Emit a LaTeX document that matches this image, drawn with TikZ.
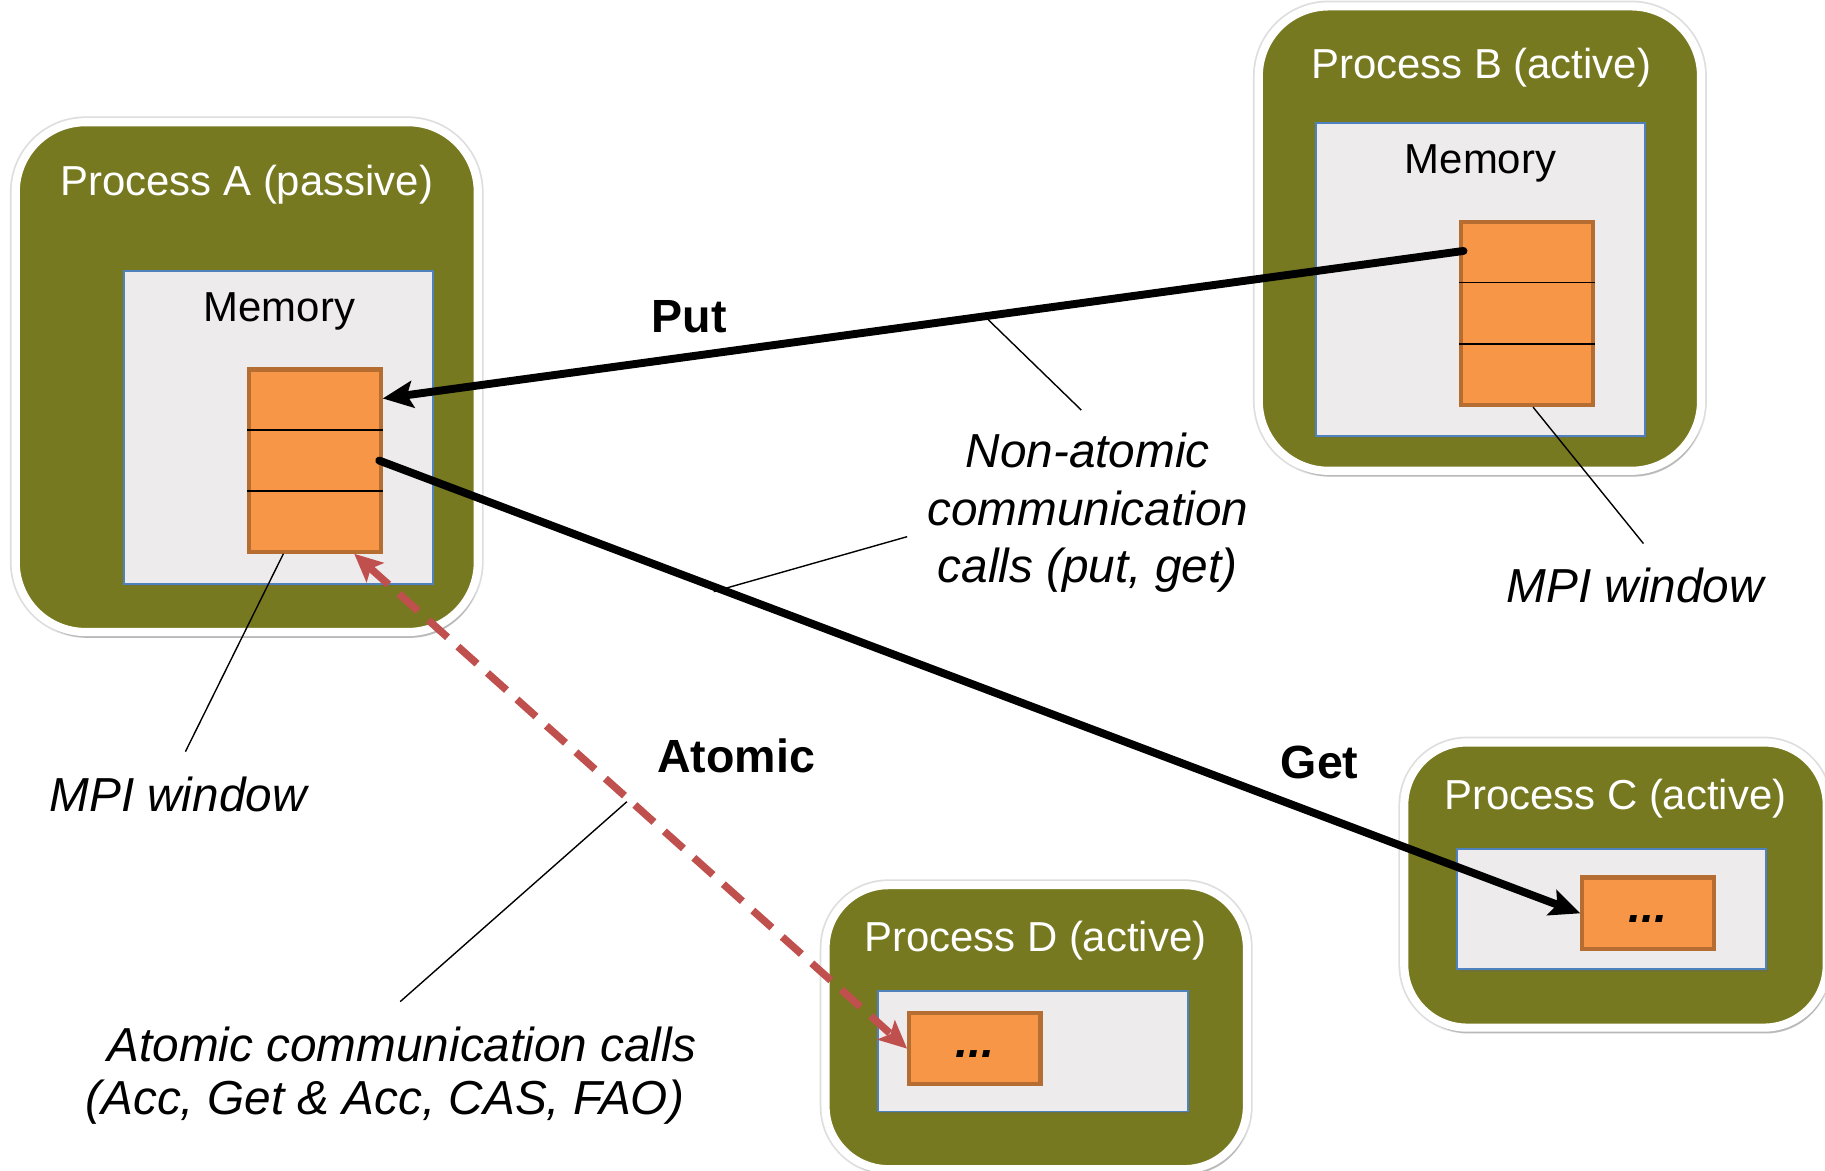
\documentclass[tikz,border=0pt]{standalone}
\usepackage{fontspec}
\setmainfont{Liberation Sans}
\usetikzlibrary{shadows,arrows.meta,calc}
\definecolor{procgreen}{RGB}{118,121,31}
\definecolor{memfill}{RGB}{237,235,236}
\definecolor{memborder}{RGB}{79,129,189}
\definecolor{winfill}{RGB}{247,150,70}
\definecolor{winborder}{RGB}{182,109,49}
\definecolor{atomred}{RGB}{192,80,77}
\begin{document}
\begin{tikzpicture}[x=0.5pt,y=-0.5pt,
  proc/.style={draw=white, line width=3.5pt, fill=procgreen, rounded corners=30pt, inner sep=0pt,
    preaction={draw=black!13, line width=5pt},
    drop shadow={fill=black!60, opacity=0.3, shadow xshift=1pt, shadow yshift=-2.5pt}},
  mem/.style={draw=memborder, line width=0.8pt, fill=memfill, inner sep=0pt,
    drop shadow={fill=black!60, opacity=0.3, shadow xshift=0.8pt, shadow yshift=-1pt}},
  win/.style={draw=winborder, line width=1.8pt, fill=winfill, inner sep=0pt},
  winline/.style={line width=0.7pt, black},
  title/.style={text=white, font=\fontsize{18}{21}\selectfont},
  memlabel/.style={font=\fontsize{18}{21}\selectfont},
  oplabel/.style={font=\fontsize{20}{24}\selectfont\bfseries},
  note/.style={font=\fontsize{20.5}{24.75}\selectfont\itshape, align=center},
  dots/.style={font=\fontsize{20}{24}\selectfont\bfseries\itshape},
  leader/.style={line width=0.6pt, black},
  callarrow/.style={line width=3.4pt, line cap=round, -{Stealth[length=13pt,width=11.5pt,inset=2.5pt]}},
  atomarrow/.style={line width=3.2pt, atomred, dash pattern=on 11pt off 6pt,
    {Stealth[length=12pt,width=11pt,inset=2.5pt]}-{Stealth[length=12pt,width=11pt,inset=2.5pt]}}]

\useasboundingbox (0,0) rectangle (1568,1006);
\fill[white] (0,0) rectangle (1568,1006);

% processes
\node[proc, minimum width=198.5pt, minimum height=219pt] (procA) at (212,324) {};
\node[proc, minimum width=190pt, minimum height=199.5pt] (procB) at (1271.5,205) {};
\node[proc, rounded corners=27pt, minimum width=181.5pt, minimum height=122.5pt] (procC) at (1388,760.4) {};
\node[proc, rounded corners=27pt, minimum width=181pt, minimum height=122pt] (procD) at (890.3,882.5) {};

\node[title] (titleA) at (212,159) {Process A (passive)};
\node[title] (titleB) at (1272.5,58) {Process B (active)};
\node[title] (titleC) at (1387.8,686) {Process C (active)};
\node[title] (titleD) at (889.5,808) {Process D (active)};

% memories
\node[mem, minimum width=132.6pt, minimum height=134.55pt] (memA) at (239.1,367.25) {};
\node[mem, minimum width=141.45pt, minimum height=134.3pt] (memB) at (1272.15,240.3) {};
\node[mem, minimum width=132.8pt, minimum height=51.7pt] (memC) at (1384.5,781.1) {};
\node[mem, minimum width=132.85pt, minimum height=51.8pt] (memD) at (887.55,903.2) {};

\node[memlabel] (memlabA) at (240,268) {Memory};
\node[memlabel] (memlabB) at (1272,140) {Memory};

% windows
\node[win, minimum width=56.4pt, minimum height=78.3pt] (winA) at (270.6,395.7) {};
\node[win, minimum width=56.7pt, minimum height=78.75pt] (winB) at (1311.9,269.25) {};
\node[win, minimum width=56.45pt, minimum height=30.7pt] (winC) at (1415.95,784.7) {};
\node[win, minimum width=56.4pt, minimum height=30.4pt] (winD) at (837.6,901) {};

\draw[winline] ($(winA.north west)!0.336!(winA.south west)$) -- ($(winA.north east)!0.336!(winA.south east)$);
\draw[winline] ($(winA.north west)!0.663!(winA.south west)$) -- ($(winA.north east)!0.663!(winA.south east)$);
\draw[winline] ($(winB.north west)!0.336!(winB.south west)$) -- ($(winB.north east)!0.336!(winB.south east)$);
\draw[winline] ($(winB.north west)!0.663!(winB.south west)$) -- ($(winB.north east)!0.663!(winB.south east)$);

\node[dots, yshift=-2.5pt] (dotsC) at (winC.center) {...};
\node[dots, yshift=-2.5pt] (dotsD) at (winD.center) {...};

% arrows
\draw[callarrow] ([xshift=2pt]$(winB.north west)!0.167!(winB.south west)$) -- ($(winA.north east)!0.167!(winA.south east)$);
\draw[callarrow] ([xshift=-1.5pt]winA.east) -- (winC.west);
\draw[atomarrow] ($(winA.south west)!0.79!(winA.south east)$) -- (winD.west);

% labels
\node[oplabel] (putlab) at (592,272) {Put};
\node[oplabel] (getlab) at (1133.8,655) {Get};
\node[oplabel] (atomlab) at (632.5,649) {Atomic};

\node[note] (nonatomic) at (934.5,440.5) {Non-atomic\\communication\\calls (put, get)};
\node[note] (mpiA) at (153,682.5) {MPI window};
\node[note] (mpiB) at (1405,503) {MPI window};
\node[note] (atomcalls1) at (345.2,897) {Atomic communication calls};
\node[note] (atomcalls2) at (330.5,947) {(Acc, Get \& Acc, CAS, FAO)};

% leader lines
\coordinate (lnA1) at (843.4,269.2);
\coordinate (lnA2) at (929,352.3);
\coordinate (lnB1) at (613.3,508.3);
\coordinate (lnB2) at (779.4,461.1);
\coordinate (lnC1) at (538.6,688.8);
\coordinate (lnC2) at (343.8,860.6);
\coordinate (lnMA) at (159.3,645.8);
\coordinate (lnMB) at (1412,467);
\draw[leader] (lnA1) -- (lnA2);
\draw[leader] (lnB1) -- (lnB2);
\draw[leader] (lnC1) -- (lnC2);
\draw[leader] ($(winA.south west)!0.267!(winA.south east)$) -- (lnMA);
\draw[leader] ($(winB.south west)!0.545!(winB.south east)$) -- (lnMB);
\end{tikzpicture}
\end{document}
